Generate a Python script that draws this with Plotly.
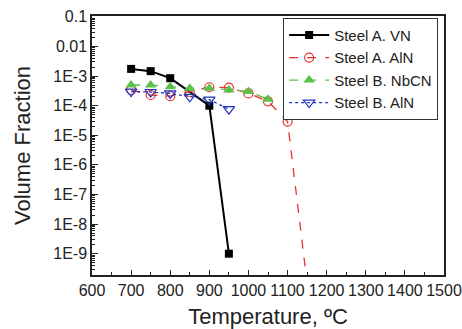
import plotly.graph_objects as go

# Data
vn_x = [700, 750, 800, 900, 950]
vn_y = [1.75e-3, 1.47e-3, 8.5e-4, 1.0e-4, 1.0e-9]

a_aln_x = [700, 750, 800, 850, 900, 950, 1000, 1050, 1100, 1150]
a_aln_y = [3.4e-4, 2.3e-4, 2.1e-4, 2.9e-4, 4.2e-4, 4.1e-4, 2.6e-4, 1.4e-4, 2.9e-5, 1.0e-10]

nbcn_x = [700, 750, 800, 850, 900, 950, 1000, 1050]
nbcn_y = [5.0e-4, 5.0e-4, 4.4e-4, 3.9e-4, 3.9e-4, 3.4e-4, 3.0e-4, 1.66e-4]

b_aln_x = [700, 750, 800, 850, 900, 950]
b_aln_y = [3.0e-4, 2.9e-4, 2.6e-4, 2.0e-4, 1.6e-4, 7.6e-5]

y_tickvals = [1e-9, 1e-8, 1e-7, 1e-6, 1e-5, 1e-4, 1e-3, 0.01, 0.1]
y_ticktext = ["1E-9", "1E-8", "1E-7", "1E-6", "1E-5", "1E-4", "1E-3", "0.01", "0.1"]

FONT = "Liberation Sans, Arial, sans-serif"

fig = go.Figure()
fig.add_trace(go.Scatter(x=vn_x, y=vn_y, name="Steel A. VN", mode="lines+markers",
                         line=dict(color="black", width=2, dash="solid"),
                         marker=dict(symbol="square", size=8, color="black")))
fig.add_trace(go.Scatter(x=a_aln_x, y=a_aln_y, name="Steel A. AlN", mode="lines+markers",
                         line=dict(color="#e8322e", width=1.3, dash="dash"),
                         marker=dict(symbol="circle-open", size=9, color="#e8322e",
                                     line=dict(width=1.2))))
fig.add_trace(go.Scatter(x=nbcn_x, y=nbcn_y, name="Steel B. NbCN", mode="lines+markers",
                         line=dict(color="#5cc04a", width=1.3, dash="dash"),
                         marker=dict(symbol="triangle-up", size=10, color="#5cc04a")))
fig.add_trace(go.Scatter(x=b_aln_x, y=b_aln_y, name="Steel B. AlN", mode="lines+markers",
                         line=dict(color="#2233bb", width=1.3, dash="dot"),
                         marker=dict(symbol="triangle-down-open", size=10, color="#2233bb",
                                     line=dict(width=1.2))))

fig.update_layout(
    width=462, height=329,
    margin=dict(l=92, r=18, t=16, b=54),
    paper_bgcolor="white", plot_bgcolor="white",
    font=dict(family=FONT, size=16, color="#222"),
    showlegend=True,
    legend=dict(x=0.543, y=0.993, xanchor="left", yanchor="top",
                bgcolor="white", bordercolor="#333", borderwidth=1,
                font=dict(size=15, family=FONT), tracegroupgap=0,
                itemwidth=40),
    xaxis=dict(
        range=[600, 1500], tickvals=list(range(600, 1501, 100)),
        ticks="inside", ticklen=5, tickwidth=1, tickcolor="#222",
        showline=True, linecolor="#222", linewidth=1.5, mirror=True,
        showgrid=False, zeroline=False, automargin=False,
        minor=dict(ticks="inside", ticklen=3, dtick=50, tickcolor="#222", showgrid=False),
        title=dict(text="Temperature, ºC", font=dict(size=22, family=FONT), standoff=14),
        tickfont=dict(size=16),
    ),
    yaxis=dict(
        type="log", range=[-9.72, -0.97],
        tickvals=y_tickvals, ticktext=y_ticktext,
        ticks="inside", ticklen=6, tickwidth=1, tickcolor="#222",
        showline=True, linecolor="#222", linewidth=1.5, mirror=True,
        showgrid=False, zeroline=False, automargin=False,
        minor=dict(ticks="inside", ticklen=3, dtick="D1", tickcolor="#222", showgrid=False),
        title=dict(text="Volume Fraction", font=dict(size=22, family=FONT), standoff=17),
        tickfont=dict(size=16),
    ),
)

fig.write_html("out.html")
